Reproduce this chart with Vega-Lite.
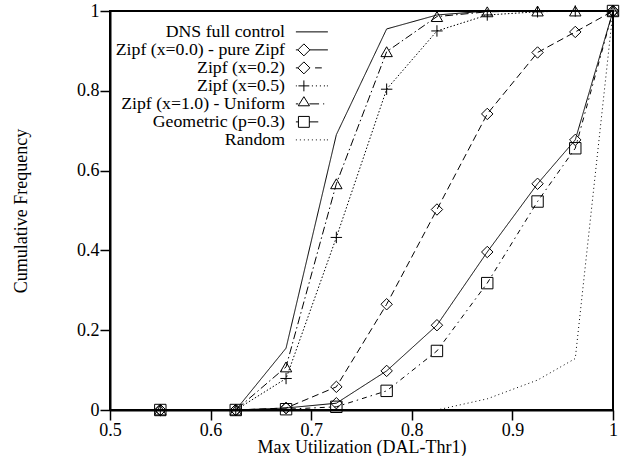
{
  "$schema": "https://vega.github.io/schema/vega-lite/v6.json",
  "width": 503,
  "height": 399,
  "autosize": {"type": "none"},
  "padding": {"left": 110, "top": 11, "right": 11, "bottom": 46},
  "background": "white",
  "config": {
    "view": {"stroke": "black", "strokeWidth": 2},
    "font": "Liberation Serif",
    "axis": {
      "grid": false,
      "domainColor": "black",
      "domainWidth": 2,
      "tickColor": "black",
      "tickWidth": 1.5,
      "tickSize": 10,
      "labelFont": "Liberation Serif",
      "labelFontSize": 18,
      "labelColor": "black",
      "labelPadding": 1,
      "labelFlush": false,
      "labelOverlap": false,
      "titleFont": "Liberation Serif",
      "titleFontSize": 18,
      "titleFontWeight": "normal",
      "titleColor": "black"
    }
  },
  "data": {
    "values": [
      {"series": "DNS full control", "x": 0.55, "y": 0},
      {"series": "DNS full control", "x": 0.625, "y": 0},
      {"series": "DNS full control", "x": 0.675, "y": 0.155},
      {"series": "DNS full control", "x": 0.725, "y": 0.69},
      {"series": "DNS full control", "x": 0.775, "y": 0.955},
      {"series": "DNS full control", "x": 0.825, "y": 0.99},
      {"series": "DNS full control", "x": 0.875, "y": 1},
      {"series": "DNS full control", "x": 0.925, "y": 1},
      {"series": "DNS full control", "x": 0.9625, "y": 1},
      {"series": "DNS full control", "x": 1.0, "y": 1},
      {"series": "Zipf (x=0.0) - pure Zipf", "x": 0.55, "y": 0},
      {"series": "Zipf (x=0.0) - pure Zipf", "x": 0.625, "y": 0},
      {"series": "Zipf (x=0.0) - pure Zipf", "x": 0.675, "y": 0.005},
      {"series": "Zipf (x=0.0) - pure Zipf", "x": 0.725, "y": 0.017},
      {"series": "Zipf (x=0.0) - pure Zipf", "x": 0.775, "y": 0.098},
      {"series": "Zipf (x=0.0) - pure Zipf", "x": 0.825, "y": 0.2125},
      {"series": "Zipf (x=0.0) - pure Zipf", "x": 0.875, "y": 0.396},
      {"series": "Zipf (x=0.0) - pure Zipf", "x": 0.925, "y": 0.567},
      {"series": "Zipf (x=0.0) - pure Zipf", "x": 0.9625, "y": 0.677},
      {"series": "Zipf (x=0.0) - pure Zipf", "x": 1.0, "y": 1},
      {"series": "Zipf (x=0.2)", "x": 0.55, "y": 0},
      {"series": "Zipf (x=0.2)", "x": 0.625, "y": 0},
      {"series": "Zipf (x=0.2)", "x": 0.675, "y": 0.005},
      {"series": "Zipf (x=0.2)", "x": 0.725, "y": 0.058},
      {"series": "Zipf (x=0.2)", "x": 0.775, "y": 0.265},
      {"series": "Zipf (x=0.2)", "x": 0.825, "y": 0.5025},
      {"series": "Zipf (x=0.2)", "x": 0.875, "y": 0.742},
      {"series": "Zipf (x=0.2)", "x": 0.925, "y": 0.896},
      {"series": "Zipf (x=0.2)", "x": 0.9625, "y": 0.9475},
      {"series": "Zipf (x=0.2)", "x": 1.0, "y": 1},
      {"series": "Zipf (x=0.5)", "x": 0.55, "y": 0},
      {"series": "Zipf (x=0.5)", "x": 0.625, "y": 0},
      {"series": "Zipf (x=0.5)", "x": 0.675, "y": 0.079},
      {"series": "Zipf (x=0.5)", "x": 0.725, "y": 0.4325},
      {"series": "Zipf (x=0.5)", "x": 0.775, "y": 0.804},
      {"series": "Zipf (x=0.5)", "x": 0.825, "y": 0.95},
      {"series": "Zipf (x=0.5)", "x": 0.875, "y": 0.99},
      {"series": "Zipf (x=0.5)", "x": 0.925, "y": 0.998},
      {"series": "Zipf (x=0.5)", "x": 0.9625, "y": 1},
      {"series": "Zipf (x=0.5)", "x": 1.0, "y": 1},
      {"series": "Zipf (x=1.0) - Uniform", "x": 0.55, "y": 0},
      {"series": "Zipf (x=1.0) - Uniform", "x": 0.625, "y": 0},
      {"series": "Zipf (x=1.0) - Uniform", "x": 0.675, "y": 0.108},
      {"series": "Zipf (x=1.0) - Uniform", "x": 0.725, "y": 0.567},
      {"series": "Zipf (x=1.0) - Uniform", "x": 0.775, "y": 0.898},
      {"series": "Zipf (x=1.0) - Uniform", "x": 0.825, "y": 0.986},
      {"series": "Zipf (x=1.0) - Uniform", "x": 0.875, "y": 0.998},
      {"series": "Zipf (x=1.0) - Uniform", "x": 0.925, "y": 1},
      {"series": "Zipf (x=1.0) - Uniform", "x": 0.9625, "y": 1},
      {"series": "Zipf (x=1.0) - Uniform", "x": 1.0, "y": 1},
      {"series": "Geometric (p=0.3)", "x": 0.55, "y": 0},
      {"series": "Geometric (p=0.3)", "x": 0.625, "y": 0},
      {"series": "Geometric (p=0.3)", "x": 0.675, "y": 0.002},
      {"series": "Geometric (p=0.3)", "x": 0.725, "y": 0.008},
      {"series": "Geometric (p=0.3)", "x": 0.775, "y": 0.048},
      {"series": "Geometric (p=0.3)", "x": 0.825, "y": 0.148},
      {"series": "Geometric (p=0.3)", "x": 0.875, "y": 0.318},
      {"series": "Geometric (p=0.3)", "x": 0.925, "y": 0.5225},
      {"series": "Geometric (p=0.3)", "x": 0.9625, "y": 0.656},
      {"series": "Geometric (p=0.3)", "x": 1.0, "y": 1},
      {"series": "Random", "x": 0.55, "y": 0},
      {"series": "Random", "x": 0.625, "y": 0},
      {"series": "Random", "x": 0.675, "y": 0},
      {"series": "Random", "x": 0.725, "y": 0},
      {"series": "Random", "x": 0.775, "y": 0},
      {"series": "Random", "x": 0.825, "y": 0},
      {"series": "Random", "x": 0.875, "y": 0.028},
      {"series": "Random", "x": 0.925, "y": 0.075},
      {"series": "Random", "x": 0.9625, "y": 0.129},
      {"series": "Random", "x": 1.0, "y": 1}
    ]
  },
  "layer": [
    {
      "mark": {"type": "line", "color": "black", "strokeWidth": 1},
      "encoding": {
        "x": {"field": "x", "type": "quantitative", "scale": {"domain": [0.5, 1]},
              "axis": {"values": [0.5, 0.6, 0.7, 0.8, 0.9, 1], "format": ".1~f", "title": "Max Utilization (DAL-Thr1)", "titlePadding": -1}},
        "y": {"field": "y", "type": "quantitative", "scale": {"domain": [0, 1]},
              "axis": {"values": [0, 0.2, 0.4, 0.6, 0.8, 1], "format": ".1~f", "title": "Cumulative Frequency", "titlePadding": 46}},
        "strokeDash": {"field": "series", "type": "nominal",
          "scale": {
            "domain": ["DNS full control", "Zipf (x=0.0) - pure Zipf", "Zipf (x=0.2)", "Zipf (x=0.5)", "Zipf (x=1.0) - Uniform", "Geometric (p=0.3)", "Random"],
            "range": [[1, 0], [1, 0], [7, 4], [1.5, 2], [8, 3, 1.5, 3], [5, 4, 1.5, 4], [1, 3]]
          },
          "legend": null}
      }
    },
    {
      "transform": [{"filter": "datum.series !== 'DNS full control' && datum.series !== 'Random'"}],
      "mark": {"type": "point", "color": "black", "filled": false, "strokeWidth": 1, "size": 130, "opacity": 1},
      "encoding": {
        "x": {"field": "x", "type": "quantitative"},
        "y": {"field": "y", "type": "quantitative"},
        "shape": {"field": "series", "type": "nominal",
          "scale": {
            "domain": ["Zipf (x=0.0) - pure Zipf", "Zipf (x=0.2)", "Zipf (x=0.5)", "Zipf (x=1.0) - Uniform", "Geometric (p=0.3)"],
            "range": ["diamond", "diamond", "M-1,0H1M0,-1V1", "triangle-up", "square"]
          },
          "legend": null}
      }
    },
    {
      "transform": [{"filter": "false"}],
      "mark": {"type": "point", "color": "black", "filled": false, "strokeWidth": 1, "opacity": 1},
      "encoding": {
        "x": {"field": "x", "type": "quantitative"},
        "y": {"field": "y", "type": "quantitative"},
        "shape": {"field": "series", "type": "nominal",
          "scale": {
            "domain": ["DNS full control", "Zipf (x=0.0) - pure Zipf", "Zipf (x=0.2)", "Zipf (x=0.5)", "Zipf (x=1.0) - Uniform", "Geometric (p=0.3)", "Random"],
            "range": [
              "M-2,0H2",
              "M-2,0H-1.75M-0.25,0H2M-1.75,0L-1,-0.75L-0.25,0L-1,0.75Z",
              "M-2,0H-1.75M-1.75,0L-1,-0.75L-0.25,0L-1,0.75ZM0.4,0H1.24",
              "M-2,0H-1.88M-1.68,0H-0.32M-1,-0.68V0.68M0,0H0.14M0.5,0H0.64M1,0H1.14M1.5,0H1.64M1.88,0H2",
              "M-2,0H-1.7M-1.7,0.24L-1,-0.9L-0.3,0.24ZM-0.3,0H0.9M1.4,0H1.54",
              "M-2,0H-1.68M-1.68,-0.68H-0.32V0.68H-1.68ZM-0.32,0H0.8",
              "M-2,0H-1.88M-1.5,0H-1.38M-1,0H-0.88M-0.5,0H-0.38M0,0H0.12M0.5,0H0.62M1,0H1.12M1.5,0H1.62M1.88,0H2"
            ]
          },
          "legend": {
            "orient": "none",
            "legendX": 163,
            "legendY": 12,
            "title": null,
            "padding": 0,
            "labelAlign": "right",
            "labelOffset": -35.75,
            "symbolOffset": 30,
            "symbolSize": 256,
            "symbolStrokeWidth": 1,
            "symbolStrokeColor": "black",
            "symbolOpacity": 1,
            "rowPadding": -2,
            "labelFont": "Liberation Serif",
            "labelFontSize": 17.75,
            "labelColor": "black",
            "labelLimit": 400
          }}
      }
    }
  ],
  "resolve": {"scale": {"shape": "independent"}, "legend": {"shape": "independent"}}
}
